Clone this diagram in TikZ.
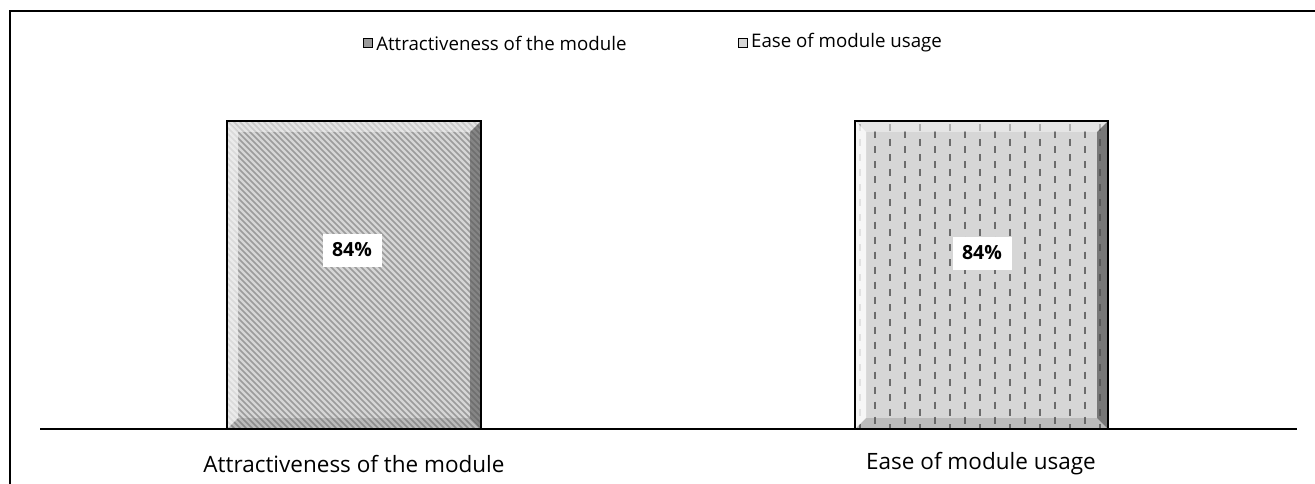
\documentclass[tikz,border=0pt]{standalone}
\usepackage{fontspec}
\setmainfont{Open Sans}
\usetikzlibrary{positioning}
\definecolor{barface}{RGB}{214,214,214}
\definecolor{barstripe}{RGB}{155,155,155}
\definecolor{barlight}{RGB}{245,245,245}
\definecolor{bardark}{RGB}{80,80,80}
\tikzset{
  barframe/.style={draw=black, line width=2.5pt},
  valbox/.style={fill=white, inner sep=0pt, minimum width=59pt, minimum height=33pt, font=\fontsize{19.5}{22}\selectfont\bfseries},
  legtext/.style={font=\fontsize{18.7}{22}\selectfont, inner sep=1pt, anchor=west},
  axtext/.style={font=\fontsize{22.5}{26}\selectfont},
  legmark/.style={draw=black, line width=1.2pt, minimum size=9pt, inner sep=0pt}
}
\begin{document}
\begin{tikzpicture}[x=1pt,y=-1pt]
        \useasboundingbox (0,0) rectangle (1315,484);
        % frame and axis
        \draw[line width=2pt] (10,484) -- (10,11) -- (1315,11);
        \draw[line width=2pt] (40,429) -- (1297,429);

        % bar 1, diagonal stripes
        \fill[barface] (227,121) rectangle (481,429);
        \begin{scope}
            \clip (227,121) rectangle (481,429);
            \foreach \k in {-318,-312,...,260}
                \draw[barstripe, line width=1.6pt] (227+\k,121) -- (227+\k+308,429);
        \end{scope}
            \fill[barlight, opacity=.5] (227,121) -- (481,121) -- (470,132) -- (238,132) -- cycle;
            \fill[barlight, opacity=.7] (227,121) -- (238,132) -- (238,418) -- (227,429) -- cycle;
            \fill[bardark, opacity=.6] (481,121) -- (470,132) -- (470,418) -- (481,429) -- cycle;
            \fill[bardark, opacity=.2] (227,429) -- (238,418) -- (470,418) -- (481,429) -- cycle;
        \draw[barframe] (227,121) rectangle (481,429);
        \node[valbox] (valA) at (352,250) {84\%};

        % bar 2, vertical dashes
        \fill[barface] (855,121) rectangle (1108,429);
        \begin{scope}
            \clip (855,121) rectangle (1108,429);
            \foreach \k in {0,2,...,16}
                \draw[barstripe!70!black, line width=2pt, dash pattern=on 7pt off 8pt] (860+\k*15,124) -- (860+\k*15,429);
            \foreach \k in {1,3,...,15}
                \draw[barstripe!70!black, line width=2pt, dash pattern=on 7pt off 8pt, dash phase=7.5pt] (860+\k*15,124) -- (860+\k*15,429);
        \end{scope}
            \fill[barlight, opacity=.5] (855,121) -- (1108,121) -- (1097,132) -- (866,132) -- cycle;
            \fill[white, opacity=.8] (855,121) -- (866,132) -- (866,418) -- (855,429) -- cycle;
            \fill[bardark, opacity=.7] (1108,121) -- (1097,132) -- (1097,418) -- (1108,429) -- cycle;
            \fill[bardark, opacity=.2] (855,429) -- (866,418) -- (1097,418) -- (1108,429) -- cycle;
        \draw[barframe] (855,121) rectangle (1108,429);
        \node[valbox] (valB) at (982,253) {84\%};

        % legend
        \node[legmark, fill=barstripe] (markA) at (368,43) {};
        \node[legtext, right=2pt of markA] (legA) {Attractiveness of the module};
        \node[legmark, fill=barface, right=110pt of legA] (markB) {};
        \node[legtext, right=2pt of markB] (legB) {Ease of module usage};

        % category labels
        \node[axtext] (catA) at (354,464) {Attractiveness of the module};
        \node[axtext] (catB) at (981,464) {Ease of module usage};
    \end{tikzpicture}
\end{document}
